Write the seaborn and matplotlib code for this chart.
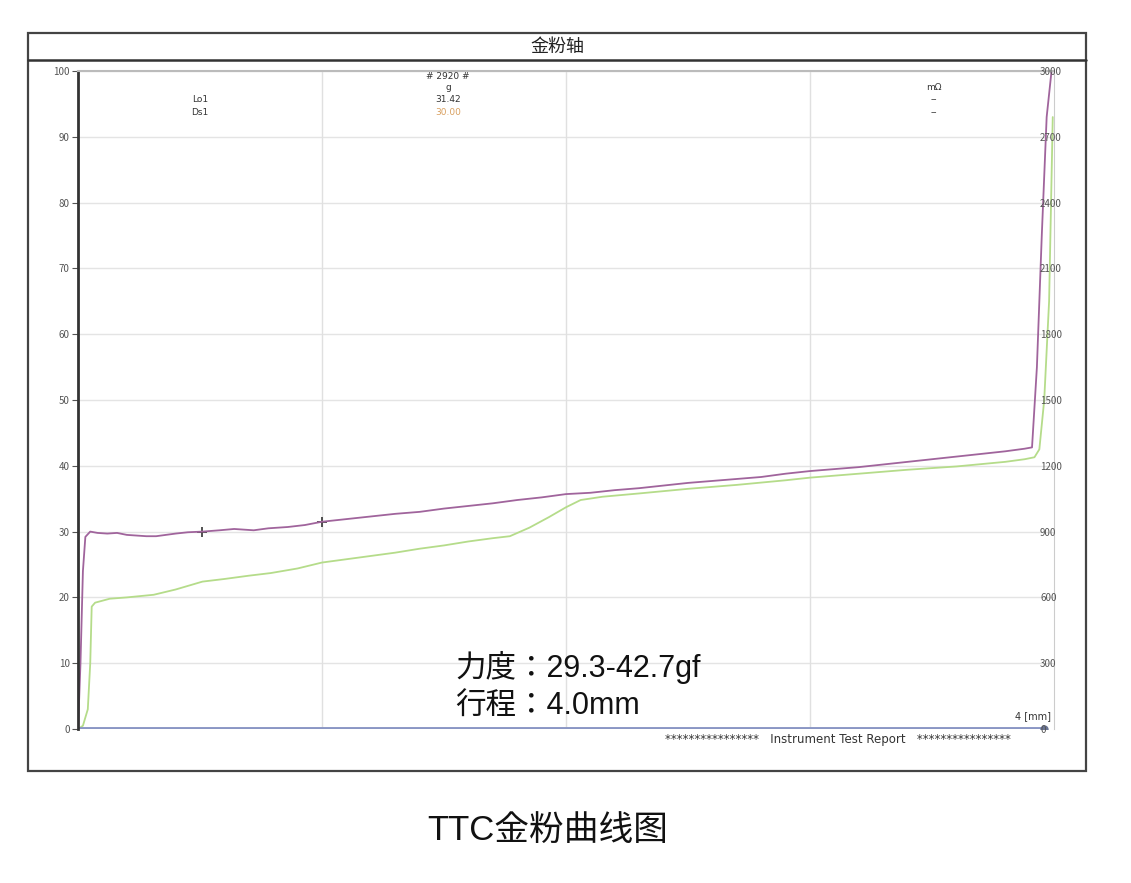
import numpy as np
import matplotlib.pyplot as plt
import seaborn as sns
from matplotlib.patches import Rectangle
from matplotlib.lines import Line2D

# Force curve 1 (purple), stroke in mm vs force in g
x_purple = [0, 0.01, 0.02, 0.03, 0.05, 0.08, 0.12, 0.16, 0.20, 0.24, 0.28, 0.32, 0.36,
            0.40, 0.45, 0.51, 0.58, 0.64, 0.72, 0.78, 0.86, 0.93, 1.00, 1.1, 1.2, 1.3,
            1.4, 1.5, 1.6, 1.7, 1.8, 1.9, 2.0, 2.1, 2.2, 2.3, 2.4, 2.5, 2.6, 2.7, 2.8,
            2.9, 3.0, 3.1, 3.2, 3.3, 3.4, 3.5, 3.6, 3.7, 3.8, 3.88, 3.91, 3.93, 3.95,
            3.97, 3.99]
y_purple = [0, 10, 24, 29.2, 30.0, 29.8, 29.7, 29.8, 29.5, 29.4, 29.3, 29.3, 29.5,
            29.7, 29.9, 30.0, 30.2, 30.4, 30.2, 30.5, 30.7, 31.0, 31.5, 31.9, 32.3, 32.7,
            33.0, 33.5, 33.9, 34.3, 34.8, 35.2, 35.7, 35.9, 36.3, 36.6, 37.0, 37.4, 37.7,
            38.0, 38.3, 38.8, 39.2, 39.5, 39.8, 40.2, 40.6, 41.0, 41.4, 41.8, 42.2, 42.6,
            42.8, 55, 75, 93, 100]

# Force curve 2 (green)
x_green = [0, 0.02, 0.04, 0.05, 0.056, 0.07, 0.09, 0.13, 0.2, 0.31, 0.4, 0.51, 0.6,
           0.7, 0.79, 0.9, 1.0, 1.1, 1.2, 1.3, 1.4, 1.5, 1.6, 1.7, 1.77, 1.85, 1.93,
           2.0, 2.06, 2.15, 2.3, 2.5, 2.7, 2.9, 3.0, 3.2, 3.4, 3.6, 3.8, 3.88, 3.92,
           3.94, 3.96, 3.98, 3.995]
y_green = [0, 0.5, 3, 10, 18.6, 19.2, 19.4, 19.8, 20.0, 20.4, 21.2, 22.4, 22.8,
           23.3, 23.7, 24.4, 25.3, 25.8, 26.3, 26.8, 27.4, 27.9, 28.5, 29.0, 29.3, 30.6,
           32.2, 33.7, 34.8, 35.3, 35.8, 36.5, 37.1, 37.8, 38.2, 38.8, 39.4, 39.9, 40.6,
           41.0, 41.3, 42.5, 50, 65, 93]

# Resistance (mOhm), flat at zero
x_res = [0, 3.96]
y_res = [0, 0]

marker_x = [0.51, 1.0]
marker_y = [30.0, 31.5]

left_ticks = list(range(0, 101, 10))
right_ticks = list(range(0, 3001, 300))
x_grid = [1, 2, 3]

sns.set_style("white")
plt.rcParams['font.family'] = ['Noto Sans CJK SC', 'DejaVu Sans']
latin_cjk = ['Liberation Sans', 'Noto Sans CJK JP']

fig = plt.figure(figsize=(11.31, 8.83), dpi=100)
ax = fig.add_axes([0.069, 0.1744, 0.8629, 0.7452])

# outer frame and title strip
fig.add_artist(Rectangle((0.0248, 0.1268), 0.9354, 0.8358, transform=fig.transFigure,
                         fill=False, edgecolor='#444444', lw=1.6))
fig.add_artist(Line2D([0.0248, 0.9602], [0.932, 0.932], transform=fig.transFigure,
                      color='#333333', lw=1.8))
fig.text(0.4925, 0.9468, '金粉轴', ha='center', va='center', fontsize=13, color='#222222')

for v in left_ticks[1:]:
    ax.axhline(v, color='#e4e4e4', lw=1, zorder=0)
for v in x_grid:
    ax.axvline(v, color='#e0e0e0', lw=1, zorder=0)

sns.lineplot(x=x_purple, y=y_purple, ax=ax, color='#a0649c', lw=1.3, sort=False)
sns.lineplot(x=x_green, y=y_green, ax=ax, color='#b5dc8a', lw=1.3, sort=False)
sns.lineplot(x=x_res, y=y_res, ax=ax, color='#8a96c4', lw=2.8, sort=False)
ax.plot(x_res[-1], y_res[-1], 'o', color='#6a7494', ms=5)
sns.scatterplot(x=marker_x, y=marker_y, ax=ax, marker='+', color='#333333', s=60,
                linewidth=1.2)

ax.set_xlim(0, 4)
ax.set_ylim(0, 100)
ax.set_yticks(left_ticks)
ax.set_xticks([])
ax.tick_params(axis='y', labelsize=7, colors='#555555', length=4, width=0.8, pad=2)
ax.spines['left'].set_color('#333333')
ax.spines['left'].set_linewidth(2)
ax.spines['top'].set_color('#bbbbbb')
ax.spines['top'].set_linewidth(1.5)
ax.spines['right'].set_color('#cccccc')
ax.spines['bottom'].set_visible(False)

ax2 = ax.twinx()
ax2.set_ylim(0, 3000)
ax2.set_yticks(right_ticks)
ax2.tick_params(axis='y', labelsize=7, colors='#555555', length=0, pad=-10)
for s in ax2.spines.values():
    s.set_visible(False)

# header readouts
small = dict(fontsize=6.5, family='DejaVu Sans', ha='center', va='center',
             transform=ax.transAxes, color='#333333')
ax.text(0.125, 0.957, 'Lo1', **small)
ax.text(0.125, 0.937, 'Ds1', **small)
ax.text(0.379, 0.992, '# 2920 #', **small)
ax.text(0.379, 0.975, 'g', **small)
ax.text(0.379, 0.957, '31.42', **small)
ax.text(0.379, 0.937, '30.00', **{**small, 'color': '#d9a060'})
ax.text(0.877, 0.975, 'mΩ', **small)
ax.text(0.877, 0.957, '--', **small)
ax.text(0.877, 0.937, '--', **small)
ax.text(0.997, 0.012, '4 [mm]', **{**small, 'ha': 'right', 'va': 'bottom', 'fontsize': 7})

ax.text(0.387, 0.093, '力度：29.3-42.7gf', transform=ax.transAxes, fontsize=22,
        ha='left', va='center', color='#111111', family=latin_cjk)
ax.text(0.387, 0.033, '行程：4.0mm', transform=ax.transAxes, fontsize=22,
        ha='left', va='center', color='#111111', family=latin_cjk)

fig.text(0.741, 0.162, '****************   Instrument Test Report   ****************',
         ha='center', va='center', fontsize=8.5, family='DejaVu Sans', color='#333333')

fig.text(0.4845, 0.06, 'TTC金粉曲线图', ha='center', va='center', fontsize=25,
         color='#111111', family=latin_cjk)

plt.savefig('out.png', dpi=100, facecolor='white')
